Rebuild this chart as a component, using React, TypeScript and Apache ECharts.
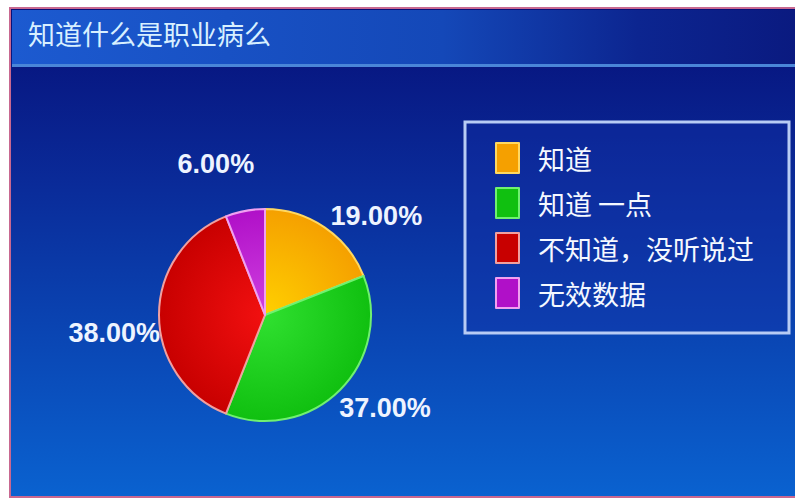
import React, { useEffect, useRef } from "react";
import * as echarts from "echarts";

const titleText = "知道什么是职业病么";
const categories = ["知道", "知道 一点", "不知道，没听说过", "无效数据"];
const values = [19, 37, 38, 6];
const baseColors = ["#f5a000", "#10c010", "#c80000", "#b010c8"];
const lightColors = ["#ffd000", "#30e030", "#f21010", "#d040e0"];
const borderColors = ["#ffd860", "#70f070", "#f0a0a0", "#f0a0f0"];

const CX = 265;
const CY = 315;
const R = 106;

export default function App() {
  const ref = useRef<HTMLDivElement>(null);
  useEffect(() => {
    if (!ref.current) return;
    const chart = echarts.init(ref.current, null, { renderer: "svg" });
    const data = categories.map((name, i) => ({
      name,
      value: values[i],
      itemStyle: {
        color: new echarts.graphic.RadialGradient(
          CX,
          CY,
          R,
          [
            { offset: 0, color: lightColors[i] },
            { offset: 1, color: baseColors[i] },
          ],
          true
        ),
        borderColor: borderColors[i],
        borderWidth: 2,
      },
    }));
    const labelShift = [
      [-8, 2],
      [-17, 7],
      [22, 18],
      [17, -31],
    ];
    chart.setOption({
      animation: false,
      backgroundColor: "#ffffff",
      graphic: [
        {
          type: "rect",
          z: -10,
          shape: { x: 10, y: 8, width: 795, height: 489 },
          style: {
            fill: new echarts.graphic.LinearGradient(0, 0, 0, 1, [
              { offset: 0, color: "#060f78" },
              { offset: 0.35, color: "#0a2a98" },
              { offset: 1, color: "#0a62d0" },
            ]),
            stroke: "#c86890",
            lineWidth: 2,
          },
          silent: true,
        },
        {
          type: "rect",
          z: -9,
          shape: { x: 12, y: 10, width: 783, height: 55 },
          style: {
            fill: new echarts.graphic.LinearGradient(0, 0, 1, 0, [
              { offset: 0, color: "#1c5ad0" },
              { offset: 0.55, color: "#1448b8" },
              { offset: 0.8, color: "#0c2590" },
              { offset: 1, color: "#0a1a80" },
            ]),
          },
          silent: true,
        },
        {
          type: "rect",
          z: -8,
          shape: { x: 12, y: 64, width: 783, height: 3 },
          style: { fill: "#4a86d8" },
          silent: true,
        },
        {
          type: "text",
          z: 5,
          left: 28,
          top: 20,
          style: {
            text: titleText,
            fill: "#d8f0ff",
            fontSize: 27,
            fontFamily: "Noto Sans CJK SC",
            shadowColor: "rgba(140,200,255,0.8)",
            shadowBlur: 4,
          },
        },
        {
          type: "rect",
          z: -7,
          shape: { x: 465, y: 122, width: 324, height: 211 },
          style: {
            fill: "rgba(20,50,170,0.35)",
            stroke: "#b8ccf4",
            lineWidth: 3,
          },
          silent: true,
        },
      ],
      legend: {
        orient: "vertical",
        left: 490,
        top: 137,
        itemWidth: 23,
        itemHeight: 30,
        itemGap: 13,
        icon: "rect",
        data: categories,
        textStyle: {
          color: "#f4f8ff",
          fontSize: 27,
          fontFamily: "Noto Sans CJK SC",
          padding: [0, 0, 0, 14],
        },
      },
      series: [
        {
          type: "pie",
          center: [CX, CY],
          radius: [0, R],
          startAngle: 90,
          clockwise: true,
          data,
          label: {
            show: true,
            position: "outside",
            formatter: (p: any) => p.value.toFixed(2) + "%",
            color: "#eef4ff",
            fontSize: 27,
            fontWeight: "bold",
            fontFamily: "Liberation Sans",
          },
          labelLine: { show: false, length: 16, length2: 0 },
          labelLayout: (p: any) => {
            const s = labelShift[p.dataIndex] || [0, 0];
            return { dx: s[0], dy: s[1] };
          },
          emphasis: { disabled: true },
        },
      ],
    });
    return () => chart.dispose();
  }, []);
  return (
    <div
      ref={ref}
      style={{ position: "fixed", left: 0, top: 0, width: 795, height: 500 }}
    />
  );
}
